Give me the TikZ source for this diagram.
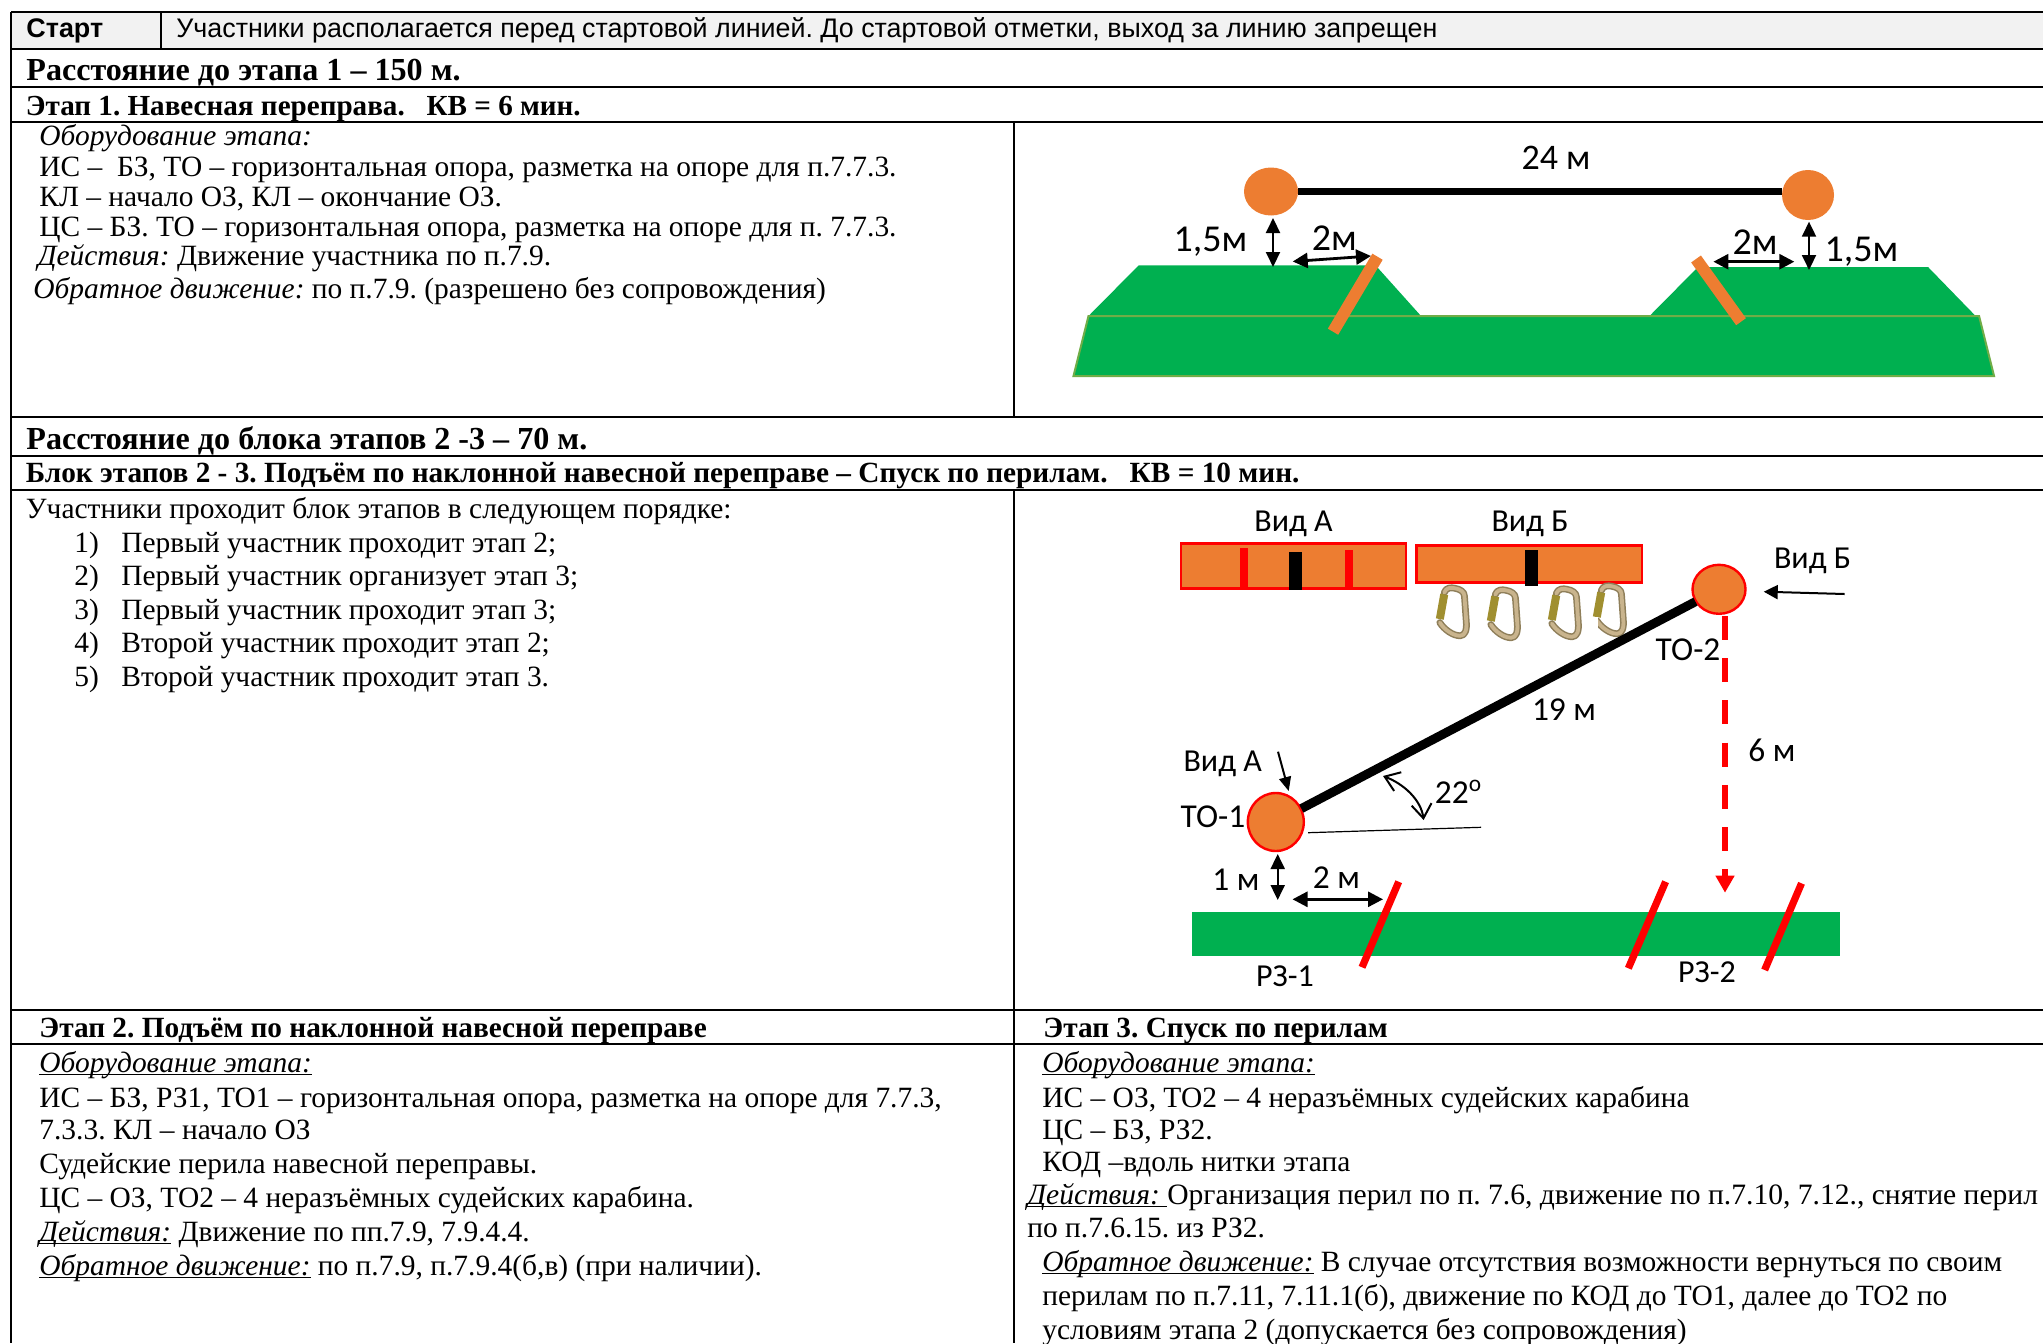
\documentclass[tikz,border=0pt]{standalone}
\usepackage{fontspec}
\setmainfont{Liberation Serif}
\newfontfamily\arialf{Liberation Sans}
\newfontfamily\calib{Carlito}
\usetikzlibrary{arrows.meta,shapes.geometric}
\definecolor{grn}{HTML}{00B050}
\definecolor{org}{HTML}{ED7D31}
\definecolor{olv}{HTML}{70AD47}
\definecolor{hdr}{HTML}{F2F2F2}
\definecolor{tanc}{HTML}{C9B48D}
\definecolor{tand}{HTML}{8F7F5A}
\definecolor{gold}{HTML}{A08F30}
\AtBeginDocument{\frenchspacing}
\newcommand{\uit}[1]{\sbox0{\textit{#1}}\rlap{\rule[-0.11em]{\wd0}{0.045em}}\usebox0}
\tikzset{
 rule/.style={line width=1.1pt,black},
 body/.style={anchor=base west,inner sep=0pt,font=\fontsize{14.72}{17}\selectfont},
 bhead/.style={anchor=base west,inner sep=0pt,font=\fontsize{14.65}{17}\selectfont\bfseries},
 bbig/.style={anchor=base west,inner sep=0pt,font=\fontsize{16.05}{20}\selectfont\bfseries},
 sans/.style={anchor=base west,inner sep=0pt,font=\fontsize{13.45}{16}\selectfont\arialf},
 lab/.style={inner sep=0pt,font=\fontsize{16.7}{20}\selectfont\calib},
 labbig/.style={inner sep=0pt,font=\fontsize{19}{22}\selectfont\calib},
 labvid/.style={inner sep=0pt,font=\fontsize{16}{20}\selectfont\calib},
 post/.style={ellipse,fill=org,inner sep=0pt},
 rpost/.style={post,draw=red,line width=1.2pt},
 dbl/.style={black,line width=1pt,{Triangle[width=7pt,length=7.5pt]}-{Triangle[width=7pt,length=7.5pt]}},
 dblh/.style={black,line width=1.4pt,{Triangle[width=7.5pt,length=7.5pt]}-{Triangle[width=7.5pt,length=7.5pt]}},
 bar/.style={draw=org,line width=6pt},
 slash/.style={draw=red,line width=3.6pt},
 plate/.style={draw=red,line width=1.3pt,fill=org},
 cab/.pic={
   \path[line join=round,line cap=round,draw=tand,line width=3.4pt] (-10,-22) .. controls (-8,-28) and (-2,-28) .. (2,-27) .. controls (8,-26) and (13,-23) .. (13,-18) -- (15,10) .. controls (16,20) and (14,27) .. (8,27) .. controls (0,27) and (-10,20) .. (-15,12);
   \path[line join=round,line cap=round,draw=tanc,line width=1.9pt] (-10,-22) .. controls (-8,-28) and (-2,-28) .. (2,-27) .. controls (8,-26) and (13,-23) .. (13,-18) -- (15,10) .. controls (16,20) and (14,27) .. (8,27) .. controls (0,27) and (-10,20) .. (-15,12);
   \draw[gold,line width=4pt] (-10,-20) -- (-15,8);
 }
}
\begin{document}
\begin{tikzpicture}[x=0.5pt,y=-0.5pt]
\useasboundingbox (0,0) rectangle (2043,1343);
% table
\fill[hdr] (11,12) rectangle (2043,48);
\draw[rule] (11,12) -- (2043,12);
\draw[rule] (11,49) -- (2043,49);
\draw[rule] (11,87) -- (2043,87);
\draw[rule] (11,122) -- (2043,122);
\draw[rule] (11,417) -- (2043,417);
\draw[rule] (11,456) -- (2043,456);
\draw[rule] (11,490) -- (2043,490);
\draw[rule] (11,1010) -- (2043,1010);
\draw[rule] (11,1044) -- (2043,1044);
\draw[rule] (11,12) -- (11,1343);
\draw[rule] (161,12) -- (161,49);
\draw[rule] (1014,122) -- (1014,417);
\draw[rule] (1014,490) -- (1014,1343);
% header texts
\node[sans,font=\fontsize{13.45}{16}\selectfont\arialf\bfseries] (t01) at (26,38) {Старт};
\node[sans,font=\fontsize{13.42}{16}\selectfont\arialf] (t02) at (176,38) {Участники располагается перед стартовой линией. До стартовой отметки, выход за линию запрещен};
\node[bbig] (t03) at (26,81) {Расстояние до этапа 1 – 150 м.};
\node[bhead,font=\fontsize{14.55}{17}\selectfont\bfseries] (t04) at (25.5,115) {Этап 1. Навесная переправа.\ \ \ КВ = 6 мин.};
\node[body] (t05) at (39,146) {\textit{Оборудование этапа:}};
\node[body] (t06) at (39,176) {ИС –\ \ БЗ, ТО – горизонтальная опора, разметка на опоре для п.7.7.3.};
\node[body] (t07) at (39,206) {КЛ – начало ОЗ, КЛ – окончание ОЗ.};
\node[body] (t08) at (39,236) {ЦС – БЗ. ТО – горизонтальная опора, разметка на опоре для п. 7.7.3.};
\node[body] (t09) at (37.5,265) {\textit{Действия:} Движение участника по п.7.9.};
\node[body] (t10) at (33,298) {\textit{Обратное движение:} по п.7.9. (разрешено без сопровождения)};
\node[bbig] (t11) at (26,449) {Расстояние до блока этапов 2 -3 – 70 м.};
\node[bhead] (t12) at (25.5,482.5) {Блок этапов 2 - 3. Подъём по наклонной навесной переправе – Спуск по перилам.\ \ \ КВ = 10 мин.};
\node[body] (t13) at (25.5,518) {Участники проходит блок этапов в следующем порядке:};
\node[body] (n1) at (74,552) {1)};
\node[body] (n2) at (74,585) {2)};
\node[body] (n3) at (74,619) {3)};
\node[body] (n4) at (74,652) {4)};
\node[body] (n5) at (74,686) {5)};
\node[body] (l1) at (121,552) {Первый участник проходит этап 2;};
\node[body] (l2) at (121,585) {Первый участник организует этап 3;};
\node[body] (l3) at (121,619) {Первый участник проходит этап 3;};
\node[body] (l4) at (121,652) {Второй участник проходит этап 2;};
\node[body] (l5) at (121,686) {Второй участник проходит этап 3.};
\node[bhead] (t14) at (39,1037) {Этап 2. Подъём по наклонной навесной переправе};
\node[bhead] (t15) at (1043,1037) {Этап 3. Спуск по перилам};
\node[body] (a1) at (39,1072) {\uit{Оборудование этапа:}};
\node[body] (a2) at (39,1107) {ИС – БЗ, РЗ1, ТО1 – горизонтальная опора, разметка на опоре для 7.7.3,};
\node[body] (a3) at (39,1139) {7.3.3. КЛ – начало ОЗ};
\node[body] (a4) at (39,1173) {Судейские перила навесной переправы.};
\node[body] (a5) at (39,1207) {ЦС – ОЗ, ТО2 – 4 неразъёмных судейских карабина.};
\node[body] (a6) at (39,1241) {\uit{Действия:} Движение по пп.7.9, 7.9.4.4.};
\node[body] (a7) at (39,1275) {\uit{Обратное движение:} по п.7.9, п.7.9.4(б,в) (при наличии).};
\node[body] (b1) at (1042,1072) {\uit{Оборудование этапа:}};
\node[body] (b2) at (1042,1107) {ИС – ОЗ, ТО2 – 4 неразъёмных судейских карабина};
\node[body] (b3) at (1042,1139) {ЦС – БЗ, РЗ2.};
\node[body] (b4) at (1042,1171) {КОД –вдоль нитки этапа};
\node[body,font=\fontsize{14.79}{17}\selectfont] (b5) at (1027,1204) {\uit{Действия: }Организация перил по п. 7.6, движение по п.7.10, 7.12., снятие перил};
\node[body] (b6) at (1027,1237) {по п.7.6.15. из РЗ2.};
\node[body] (b7) at (1042,1271) {\uit{Обратное движение:} В случае отсутствия возможности вернуться по своим};
\node[body] (b8) at (1042,1305) {перилам по п.7.11, 7.11.1(б), движение по КОД до ТО1, далее до ТО2 по};
\node[body] (b9) at (1042,1339) {условиям этапа 2 (допускается без сопровождения)};
% diagram 1
\fill[grn] (1088.5,316) -- (1138.7,265.3) -- (1375.5,265.3) -- (1421,316) -- (1649.5,316) -- (1698,267) -- (1928,267) -- (1975.6,316) -- cycle;
\draw[olv,fill=grn,line width=1pt] (1088.5,316) -- (1979,316) -- (1994,376) -- (1073.5,376) -- cycle;
\node[post,minimum width=27pt,minimum height=24pt] (p1) at (1271,191.5) {};
\node[post,minimum width=26pt,minimum height=25pt] (p2) at (1808,195) {};
\draw[black,line width=3.5pt] (p1.east) -- (p1.east -| p2.west);
\draw[bar] (1377.5,256.7) -- (1333,331.7);
\draw[bar] (1696,259) -- (1741,321.7);
\coordinate (v1a) at (1273,218); \coordinate (v1b) at (1273,267);
\coordinate (h1a) at (1292.7,261.5); \coordinate (h1b) at (1371,256);
\coordinate (v2a) at (1809,221.7); \coordinate (v2b) at (1809,270);
\coordinate (h2a) at (1713.4,261.7); \coordinate (h2b) at (1794.3,261.7);
\draw[dbl] (v1a) -- (v1b);
\draw[dblh] (h1a) -- (h1b);
\draw[dbl] (v2a) -- (v2b);
\draw[dblh] (h2a) -- (h2b);
\node[lab,font=\fontsize{18}{20}\selectfont\calib] (d1) at (1556,158) {24 м};
\node[labbig] (d2) at (1210.5,242) {1,5м};
\node[labbig] (d3) at (1334.4,238) {2м};
\node[labbig] (d4) at (1755,242) {2м};
\node[labbig] (d5) at (1861.5,252) {1,5м};
% diagram 2
\node[labvid] (e1) at (1293.5,524) {Вид А};
\node[labvid] (e2) at (1530,524) {Вид Б};
\draw[plate] (1181,543.3) rectangle (1406,588.7);
\fill[red] (1240,547.7) rectangle (1248,588.7);
\fill[red] (1345,550) rectangle (1353,588.7);
\fill[black] (1289,552) rectangle (1302,590);
\draw[plate] (1416.4,545.3) rectangle (1642,582.7);
\fill[black] (1525,550) rectangle (1538,586);
\pic[scale=0.88] at (1453,612) {cab};
\pic[scale=0.88] at (1504,614) {cab};
\pic[scale=0.88] at (1565,613) {cab};
\pic[scale=0.88] at (1610,610) {cab};
\fill[white] (1590,617) rectangle (1598,630);
\node[rpost,minimum width=53pt,minimum height=49pt,scale=0.5] (to2) at (1719,589.3) {};
\node[rpost,minimum width=56pt,minimum height=58pt,scale=0.5] (to1) at (1275.8,822) {};
\draw[black,line width=4.5pt] (to1) -- (to2);
\coordinate (ra) at (1725,616); \coordinate (rb) at (1725,892.7);
\draw[red,line width=2.9pt,dash pattern=on 12pt off 9.1pt,-{Triangle[width=9pt,length=8.5pt]}] (ra) -- (rb);
\coordinate (vb1) at (1844.5,594); \coordinate (vb2) at (1763.7,591.7);
\draw[black,line width=1pt,-{Triangle[width=7pt,length=7pt]}] (vb1) -- (vb2);
\coordinate (va1) at (1278,751.7); \coordinate (va2) at (1288.7,791);
\draw[black,line width=1pt,-{Triangle[width=6pt,length=7pt]}] (va1) -- (va2);
\node[labvid] (e3) at (1812.5,560.5) {Вид Б};
\node[lab] (e4) at (1688,650) {ТО-2};
\node[lab] (e5) at (1564,710) {19 м};
\node[lab] (e6) at (1772,750) {6 м};
\node[labvid] (e7) at (1222.7,764) {Вид А};
\node[lab] (e8) at (1213,817) {ТО-1};
\node[lab] (e9) at (1458.5,792) {22\textsuperscript{o}};
\coordinate (an1) at (1383,776); \coordinate (an2) at (1423.6,820);
\draw[black,line width=1pt,{Straight Barb[width=10pt,length=7pt]}-{Straight Barb[width=10pt,length=7pt]}] (an1) .. controls (1404,784) and (1421,800) .. (an2);
\coordinate (th1) at (1308,832.7); \coordinate (th2) at (1481,827.3);
\draw[black,line width=0.6pt] (th1) -- (th2);
\coordinate (v3a) at (1277.7,854); \coordinate (v3b) at (1277.7,900);
\coordinate (h3a) at (1292.5,899.3); \coordinate (h3b) at (1383,899.3);
\draw[dbl] (v3a) -- (v3b);
\draw[dblh] (h3a) -- (h3b);
\node[lab] (e10) at (1236,880) {1 м};
\node[lab] (e11) at (1336.5,878) {2 м};
\fill[grn] (1192,911.7) rectangle (1840,956);
\draw[slash] (1398.7,881.7) -- (1362,967.3);
\draw[slash] (1665.6,881.7) -- (1628.3,968.3);
\draw[slash] (1801.5,883.3) -- (1764.6,970);
\node[labvid] (e12) at (1285,976) {РЗ-1};
\node[labvid] (e13) at (1707,972) {РЗ-2};
\end{tikzpicture}
\end{document}
